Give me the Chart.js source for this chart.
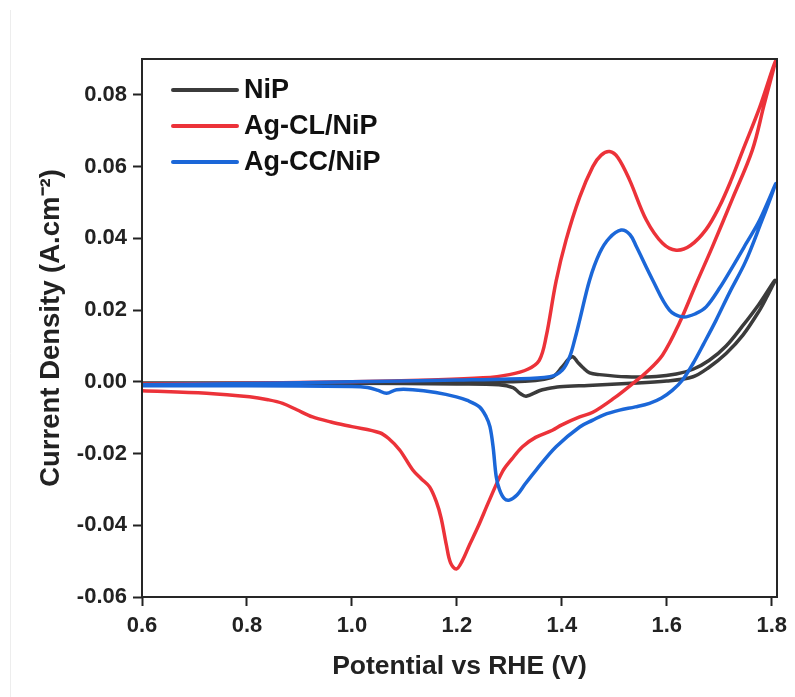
<!DOCTYPE html>
<html>
<head>
<meta charset="utf-8">
<title>Cyclic voltammetry</title>
<script src="https://cdn.jsdelivr.net/npm/chart.js@4.4.1/dist/chart.umd.min.js"></script>
<style>
  html, body { margin: 0; padding: 0; background: #fff; }
  #wrap { width: 795px; height: 697px; position: relative; }
</style>
</head>
<body>
<div id="wrap"><canvas id="cv"></canvas></div>
<script>
// potential (V vs RHE) and current density (A/cm2), anodic sweep then cathodic return
const nipV = [0.60, 1.00, 1.30, 1.380, 1.401, 1.412, 1.421, 1.430, 1.440, 1.453, 1.472, 1.523, 1.580, 1.618, 1.650, 1.681, 1.713, 1.744, 1.775, 1.806,
              1.790, 1.777, 1.745, 1.713, 1.680, 1.650, 1.600, 1.523, 1.450, 1.396, 1.370, 1.357, 1.332, 1.320, 1.307, 1.280, 1.20, 1.00, 0.60];
const nipJ = [-0.0003, -0.0003, 0.0000, 0.0012, 0.0042, 0.0062, 0.0070, 0.0055, 0.0040, 0.0025, 0.0020, 0.0014, 0.0015, 0.0022, 0.0035, 0.0060, 0.0100, 0.0155, 0.0215, 0.0283,
              0.0235, 0.0200, 0.0130, 0.0079, 0.0040, 0.0014, 0.0002, -0.0005, -0.0010, -0.0014, -0.0020, -0.0025, -0.0040, -0.0032, -0.0016, -0.0008, -0.0006, -0.0004, -0.0004];

const agClV = [0.60, 0.80, 1.00, 1.15, 1.25, 1.30, 1.335, 1.357, 1.370, 1.389, 1.408, 1.434, 1.459, 1.475, 1.491, 1.507, 1.529, 1.561, 1.592, 1.618, 1.645, 1.675, 1.700, 1.722, 1.745, 1.777, 1.807,
               1.785, 1.763, 1.725, 1.687, 1.655, 1.624, 1.592, 1.560, 1.535, 1.500, 1.459, 1.434, 1.400, 1.382, 1.350, 1.325, 1.305, 1.287, 1.262, 1.240, 1.224, 1.210, 1.199, 1.188, 1.180, 1.170, 1.161, 1.148, 1.132, 1.116, 1.091, 1.070, 1.053, 1.000, 0.960, 0.925, 0.895, 0.868, 0.840, 0.805, 0.723, 0.60];
const agClJ = [-0.0006, -0.0004, 0.0000, 0.0005, 0.0011, 0.0020, 0.0035, 0.0060, 0.0125, 0.0280, 0.0395, 0.0515, 0.0600, 0.0632, 0.0642, 0.0625, 0.0563, 0.0451, 0.0386, 0.0367, 0.0380, 0.0425, 0.0488, 0.0560, 0.0646, 0.0765, 0.0895,
               0.0770, 0.0646, 0.0510, 0.0377, 0.0270, 0.0164, 0.0075, 0.0025, -0.0005, -0.0045, -0.0085, -0.0098, -0.0120, -0.0135, -0.0155, -0.0181, -0.0215, -0.0250, -0.0330, -0.0405, -0.0455, -0.0500, -0.0522, -0.0505, -0.0455, -0.0380, -0.0335, -0.0293, -0.0270, -0.0246, -0.0190, -0.0158, -0.0142, -0.0125, -0.0112, -0.0098, -0.0078, -0.0060, -0.0050, -0.0042, -0.0032, -0.0025];

const agCcV = [0.60, 0.80, 1.00, 1.20, 1.30, 1.377, 1.401, 1.415, 1.425, 1.434, 1.453, 1.472, 1.490, 1.513, 1.530, 1.542, 1.573, 1.605, 1.631, 1.655, 1.675, 1.700, 1.725, 1.751, 1.777, 1.808,
               1.780, 1.750, 1.720, 1.694, 1.670, 1.650, 1.630, 1.611, 1.590, 1.567, 1.540, 1.510, 1.480, 1.459, 1.434, 1.389, 1.351, 1.330, 1.315, 1.300, 1.290, 1.281, 1.275, 1.269, 1.263, 1.256, 1.243, 1.220, 1.199, 1.160, 1.116, 1.085, 1.066, 1.050, 1.030, 1.00, 0.80, 0.60];
const agCcJ = [-0.0008, -0.0005, 0.0000, 0.0005, 0.0008, 0.0014, 0.0033, 0.0070, 0.0120, 0.0172, 0.0284, 0.0359, 0.0400, 0.0423, 0.0410, 0.0377, 0.0284, 0.0200, 0.0181, 0.0190, 0.0209, 0.0260, 0.0320, 0.0385, 0.0451, 0.0553,
               0.0445, 0.0335, 0.0250, 0.0172, 0.0105, 0.0051, 0.0005, -0.0023, -0.0045, -0.0060, -0.0070, -0.0079, -0.0092, -0.0107, -0.0126, -0.0181, -0.0246, -0.0285, -0.0315, -0.0330, -0.0325, -0.0300, -0.0265, -0.0181, -0.0125, -0.0098, -0.0070, -0.0052, -0.0042, -0.0030, -0.0022, -0.0022, -0.0032, -0.0024, -0.0016, -0.0013, -0.0011, -0.0011];

const seriesNames = ['NiP', 'Ag-CL/NiP', 'Ag-CC/NiP'];
const seriesColors = ['#3b3b3b', '#ec3239', '#1b67d8'];

const xTicks = [0.6, 0.8, 1.0, 1.2, 1.4, 1.6, 1.8];
const yTicks = [-0.06, -0.04, -0.02, 0.00, 0.02, 0.04, 0.06, 0.08];

const FONT = "'Liberation Sans', Arial, Helvetica, sans-serif";

function toPoints(xs, ys) {
  return xs.map((x, i) => ({x: x, y: ys[i]}));
}

// frame around the plot area
const boxPlugin = {
  id: 'box',
  beforeDraw(chart) {
    const ctx = chart.ctx;
    ctx.save();
    ctx.strokeStyle = '#ededed';
    ctx.lineWidth = 1;
    ctx.beginPath();
    ctx.moveTo(10.5, 10);
    ctx.lineTo(10.5, chart.height);
    ctx.stroke();
    ctx.restore();
  },
  afterDraw(chart) {
    const a = chart.chartArea;
    const ctx = chart.ctx;
    ctx.save();
    ctx.strokeStyle = '#262626';
    ctx.lineWidth = 2;
    ctx.strokeRect(a.left, a.top, a.right - a.left, a.bottom - a.top);
    ctx.restore();
  }
};

// legend drawn inside the top-left corner of the plot
const insideLegend = {
  id: 'insideLegend',
  afterDraw(chart) {
    const a = chart.chartArea;
    const ctx = chart.ctx;
    ctx.save();
    ctx.font = 'bold 27px ' + FONT;
    ctx.textBaseline = 'middle';
    ctx.lineCap = 'round';
    seriesNames.forEach((name, i) => {
      const y = a.top + 31 + i * 36;
      ctx.strokeStyle = seriesColors[i];
      ctx.lineWidth = 4;
      ctx.beginPath();
      ctx.moveTo(a.left + 31, y);
      ctx.lineTo(a.left + 95, y);
      ctx.stroke();
      ctx.fillStyle = '#111';
      ctx.fillText(name, a.left + 102, y + 1);
    });
    ctx.restore();
  }
};

const datasets = [
  {label: seriesNames[0], data: toPoints(nipV, nipJ), order: 2},
  {label: seriesNames[1], data: toPoints(agClV, agClJ), order: 1},
  {label: seriesNames[2], data: toPoints(agCcV, agCcJ), order: 0}
].map((d, i) => Object.assign(d, {
  showLine: true,
  borderColor: seriesColors[i],
  backgroundColor: seriesColors[i],
  borderWidth: 3.5,
  pointRadius: 0,
  tension: 0.35,
  fill: false
}));

new Chart(document.getElementById('cv'), {
  type: 'scatter',
  data: {datasets: datasets},
  options: {
    responsive: true,
    maintainAspectRatio: false,
    animation: false,
    layout: {padding: {top: 59, right: 18, left: 0, bottom: 0}},
    plugins: {
      legend: {display: false},
      tooltip: {enabled: false}
    },
    scales: {
      x: {
        type: 'linear',
        min: 0.6,
        max: 1.81,
        afterBuildTicks: s => { s.ticks = xTicks.map(v => ({value: v})); },
        afterFit: s => { s.height = 100; },
        border: {display: false},
        grid: {drawOnChartArea: false, drawTicks: true, tickLength: 9, tickWidth: 2, tickColor: '#222'},
        ticks: {
          padding: 7,
          color: '#222',
          font: {family: FONT, size: 22, weight: 'bold'},
          callback: v => v.toFixed(1)
        },
        title: {
          display: true,
          text: 'Potential vs RHE (V)',
          color: '#222',
          font: {family: FONT, size: 26.5, weight: 'bold'},
          padding: {top: 0, bottom: 14}
        }
      },
      y: {
        type: 'linear',
        min: -0.06,
        max: 0.09,
        afterBuildTicks: s => { s.ticks = yTicks.map(v => ({value: v})); },
        afterFit: s => { s.width = 142; },
        border: {display: false},
        grid: {drawOnChartArea: false, drawTicks: true, tickLength: 9, tickWidth: 2, tickColor: '#222'},
        ticks: {
          padding: 6,
          color: '#222',
          font: {family: FONT, size: 22, weight: 'bold'},
          callback: v => v.toFixed(2)
        },
        title: {
          display: true,
          text: 'Current Density (A.cm\u207B\u00B2)',
          color: '#222',
          font: {family: FONT, size: 27.5, weight: 'bold'},
          padding: {top: 35, bottom: 0}
        }
      }
    }
  },
  plugins: [boxPlugin, insideLegend]
});
</script>
</body>
</html>
